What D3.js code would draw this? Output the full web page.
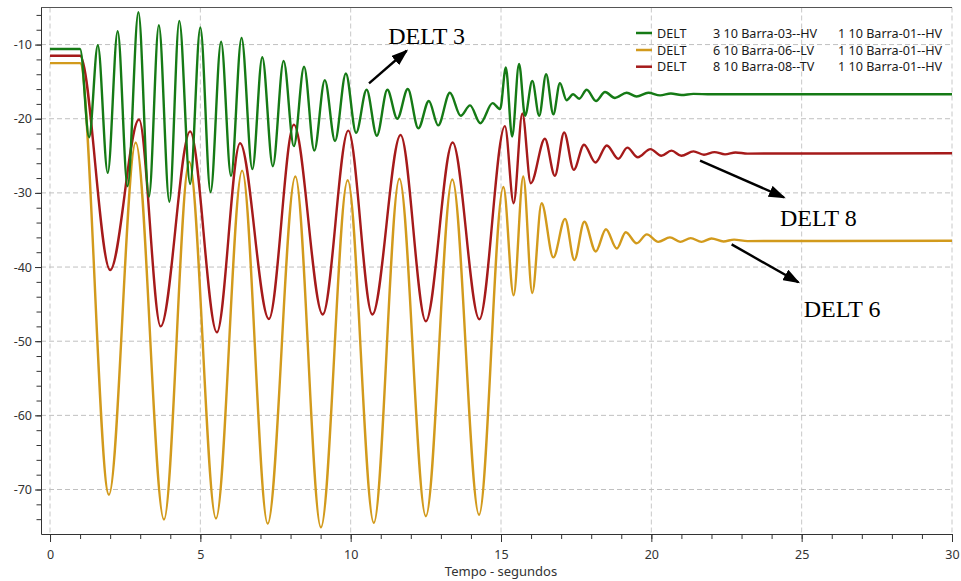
<!DOCTYPE html>
<html>
<head>
<meta charset="utf-8">
<script src="https://cdn.jsdelivr.net/npm/d3@7/dist/d3.min.js"></script>
<style>
  html, body { margin: 0; padding: 0; background: #ffffff; }
  svg { display: block; }
  .tick text { font-family: "Noto Sans", "Open Sans", sans-serif; }
</style>
</head>
<body>
<svg id="chart" width="961" height="581"></svg>
<script>
// ---- data: rotor angle swings (DELT, degrees) versus time (s), read at turning points ----
const delt3Time  = [0, 1.0, 1.3, 1.59, 1.92, 2.25, 2.58, 2.94, 3.29, 3.62, 3.97, 4.30, 4.66, 5.0, 5.34, 5.69, 6.02, 6.37, 6.73, 7.06, 7.41, 7.77, 8.11, 8.45, 8.79, 9.14, 9.48, 9.84, 10.18, 10.53, 10.87, 11.22, 11.55, 11.90, 12.25, 12.6, 12.91, 13.30, 13.66, 13.97, 14.31, 14.72, 14.97, 15.16, 15.37, 15.60, 15.80, 16.04, 16.27, 16.5, 16.74, 16.96, 17.18, 17.40, 17.6, 17.85, 18.16, 18.46, 18.79, 19.18, 19.51, 19.9, 20.29, 20.65, 21.0, 21.4, 22.0, 30];
const delt3Value = [-10.6, -10.6, -22.5, -10.1, -27.3, -8.2, -29.1, -5.65, -30.5, -7.4, -31.2, -6.8, -28.8, -7.7, -29.9, -9.6, -27.7, -9.1, -26.8, -11.7, -26.4, -12.2, -23.7, -13.0, -24.3, -14.8, -23.0, -13.9, -21.9, -16.1, -22.3, -16.1, -20.0, -16.0, -21.3, -17.6, -20.9, -16.5, -19.6, -18.2, -20.6, -17.9, -18.7, -13.1, -22.4, -12.6, -19.6, -14.9, -19.6, -14.0, -19.4, -15.2, -17.5, -16.7, -17.3, -16.1, -17.6, -16.4, -17.2, -16.5, -17.0, -16.5, -16.85, -16.6, -16.8, -16.65, -16.7, -16.7];

const delt6Time  = [0, 1.0, 1.96, 2.85, 3.79, 4.63, 5.52, 6.39, 7.24, 8.16, 9.01, 9.9, 10.77, 11.62, 12.5, 13.38, 14.27, 15.08, 15.42, 15.74, 16.04, 16.35, 16.74, 17.13, 17.44, 17.77, 18.15, 18.49, 18.85, 19.15, 19.51, 19.85, 20.23, 20.62, 20.96, 21.31, 21.67, 22.0, 22.4, 22.75, 23.2, 30];
const delt6Value = [-12.5, -12.5, -70.7, -23.2, -74.05, -25.8, -73.9, -27.0, -74.6, -27.8, -75.1, -28.3, -74.5, -28.1, -73.6, -28.2, -73.4, -29.2, -43.8, -27.8, -43.5, -31.4, -38.7, -33.5, -39.05, -33.9, -37.9, -34.9, -37.5, -35.3, -36.8, -35.6, -36.6, -36.0, -36.6, -36.1, -36.6, -36.15, -36.55, -36.3, -36.5, -36.45];

const delt8Time  = [0, 1.0, 2.0, 2.96, 3.68, 4.66, 5.55, 6.32, 7.28, 8.11, 9.07, 9.92, 10.72, 11.66, 12.5, 13.39, 14.28, 15.13, 15.42, 15.71, 15.99, 16.46, 16.79, 17.1, 17.42, 17.76, 18.14, 18.52, 18.9, 19.2, 19.55, 19.97, 20.33, 20.67, 21.0, 21.4, 21.75, 22.1, 22.45, 22.8, 23.2, 30];
const delt8Value = [-11.5, -11.5, -40.4, -20.1, -48.0, -21.7, -48.8, -23.3, -47.0, -20.8, -46.4, -21.6, -46.4, -22.2, -47.3, -23.2, -47.05, -21.0, -31.4, -19.3, -28.7, -22.7, -27.7, -21.85, -26.9, -23.5, -25.9, -23.6, -25.4, -23.9, -25.2, -24.1, -25.0, -24.3, -25.0, -24.4, -24.85, -24.5, -24.8, -24.55, -24.7, -24.65];

const seriesNames   = ["DELT", "DELT", "DELT"];
const seriesFrom    = ["3 10 Barra-03--HV", "6 10 Barra-06--LV", "8 10 Barra-08--TV"];
const seriesTo      = ["1 10 Barra-01--HV", "1 10 Barra-01--HV", "1 10 Barra-01--HV"];
const seriesColors  = ["#157a15", "#d29a1c", "#a51a1a"];

const xTickValues = [0, 5, 10, 15, 20, 25, 30];
const xTickLabels = ["0", "5", "10", "15", "20", "25", "30"];
const yTickValues = [-10, -20, -30, -40, -50, -60, -70];
const yTickLabels = ["-10", "-20", "-30", "-40", "-50", "-60", "-70"];

const xTitle = "Tempo - segundos";

// callout labels with arrows, in data units (time, angle)
const calloutText  = ["DELT 3", "DELT 8", "DELT 6"];
const calloutTextAt = [[11.25, -9.96], [24.28, -34.47], [25.07, -46.7]];
const calloutFrom  = [[10.61, -15.22], [21.62, -25.66], [22.67, -36.94]];
const calloutTo    = [[11.86, -10.83], [24.41, -30.6], [24.89, -42.06]];

// ---- layout ----
const svg = d3.select("#chart");
const plotLeft = 41, plotRight = 952, plotTop = 7.5, plotBottom = 534;

const x = d3.scaleLinear().domain([-0.3, 30]).range([plotLeft, plotRight]);
const y = d3.scaleLinear().domain([-76, -5]).range([plotBottom, plotTop]);

const uiFont = '"Noto Sans", "Open Sans", sans-serif';
const textColor = "#333333";

// grid
const grid = svg.append("g");
grid.selectAll("line.gx").data(xTickValues).join("line")
  .attr("x1", d => x(d)).attr("x2", d => x(d))
  .attr("y1", plotTop).attr("y2", plotBottom)
  .attr("stroke", "#c8c8c8").attr("stroke-width", 1)
  .attr("stroke-dasharray", "5,3");
grid.selectAll("line.gy").data(yTickValues).join("line")
  .attr("x1", plotLeft).attr("x2", plotRight)
  .attr("y1", d => y(d)).attr("y2", d => y(d))
  .attr("stroke", "#c0c0c0").attr("stroke-width", 1)
  .attr("stroke-dasharray", "5,3");

// top frame line
svg.append("line")
  .attr("x1", plotLeft).attr("x2", plotRight)
  .attr("y1", plotTop).attr("y2", plotTop)
  .attr("stroke", "#555555").attr("stroke-width", 1.2);

// axes: minor ticks
svg.append("g")
  .attr("transform", `translate(0,${plotBottom})`)
  .call(d3.axisBottom(x).tickValues(d3.range(0, 31, 1)).tickSize(5).tickSizeOuter(0).tickFormat(""))
  .call(g => g.selectAll("line, path").attr("stroke", "#333333"));
svg.append("g")
  .attr("transform", `translate(${plotLeft},0)`)
  .call(d3.axisLeft(y).tickValues(d3.range(-74, -5, 2)).tickSize(4.5).tickSizeOuter(0).tickFormat(""))
  .call(g => g.selectAll("line, path").attr("stroke", "#333333"));

// axes: major ticks + labels
svg.append("g")
  .attr("transform", `translate(0,${plotBottom})`)
  .call(d3.axisBottom(x).tickValues(xTickValues).tickSize(8).tickPadding(8).tickSizeOuter(0)
        .tickFormat((d, i) => xTickLabels[i]))
  .call(g => g.select(".domain").remove())
  .call(g => g.selectAll("line").attr("stroke", "#333333"))
  .call(g => g.selectAll("text").attr("fill", textColor).style("font-size", "12.5px"));
svg.append("g")
  .attr("transform", `translate(${plotLeft},0)`)
  .call(d3.axisLeft(y).tickValues(yTickValues).tickSize(6).tickPadding(3).tickSizeOuter(0)
        .tickFormat((d, i) => yTickLabels[i]))
  .call(g => g.select(".domain").remove())
  .call(g => g.selectAll("line").attr("stroke", "#333333"))
  .call(g => g.selectAll("text").attr("fill", textColor).style("font-size", "12.5px"));

// axis title
svg.append("text")
  .attr("x", (x(0) + x(30)) / 2).attr("y", 576)
  .attr("text-anchor", "middle")
  .attr("font-family", uiFont).attr("font-size", 13)
  .attr("fill", textColor)
  .text(xTitle);

// curves
const series = [
  { t: delt3Time, v: delt3Value },
  { t: delt6Time, v: delt6Value },
  { t: delt8Time, v: delt8Value }
];
const line = d3.line()
  .x(d => x(d[0])).y(d => y(d[1]))
  .curve(d3.curveMonotoneX);

// gold first, then red, then green on top
[1, 2, 0].forEach(i => {
  const pts = series[i].t.map((t, k) => [t, series[i].v[k]]);
  svg.append("path")
    .datum(pts)
    .attr("d", line)
    .attr("fill", "none")
    .attr("stroke", seriesColors[i])
    .attr("stroke-width", 2.4)
    .attr("stroke-linejoin", "round");
});

// legend
const legendRowY = [33, 50, 66.7];
const legend = svg.append("g");
seriesNames.forEach((name, i) => {
  const cy = legendRowY[i];
  legend.append("line")
    .attr("x1", 636).attr("x2", 652)
    .attr("y1", cy).attr("y2", cy)
    .attr("stroke", seriesColors[i]).attr("stroke-width", 2.5);
  const cols = [[657, name], [713, seriesFrom[i]], [838, seriesTo[i]]];
  cols.forEach(([cx, txt]) => {
    legend.append("text")
      .attr("x", cx).attr("y", cy + 4.5)
      .attr("font-family", uiFont).attr("font-size", 12.6)
      .attr("fill", "#1a1a1a")
      .text(txt);
  });
});

// callouts
const defs = svg.append("defs");
defs.append("marker")
  .attr("id", "arrowHead")
  .attr("viewBox", "0 -6 17 12")
  .attr("refX", 15).attr("refY", 0)
  .attr("markerWidth", 17).attr("markerHeight", 12)
  .attr("markerUnits", "userSpaceOnUse")
  .attr("orient", "auto")
  .append("path")
  .attr("d", "M0,-6 L17,0 L0,6 Z")
  .attr("fill", "#000000");

calloutText.forEach((txt, i) => {
  svg.append("line")
    .attr("x1", x(calloutFrom[i][0])).attr("y1", y(calloutFrom[i][1]))
    .attr("x2", x(calloutTo[i][0])).attr("y2", y(calloutTo[i][1]))
    .attr("stroke", "#000000").attr("stroke-width", 2.4)
    .attr("marker-end", "url(#arrowHead)");
  svg.append("text")
    .attr("x", x(calloutTextAt[i][0])).attr("y", y(calloutTextAt[i][1]))
    .attr("font-family", '"Liberation Serif", "Times New Roman", serif')
    .attr("font-size", 24)
    .attr("fill", "#000000")
    .text(txt);
});
</script>
</body>
</html>
